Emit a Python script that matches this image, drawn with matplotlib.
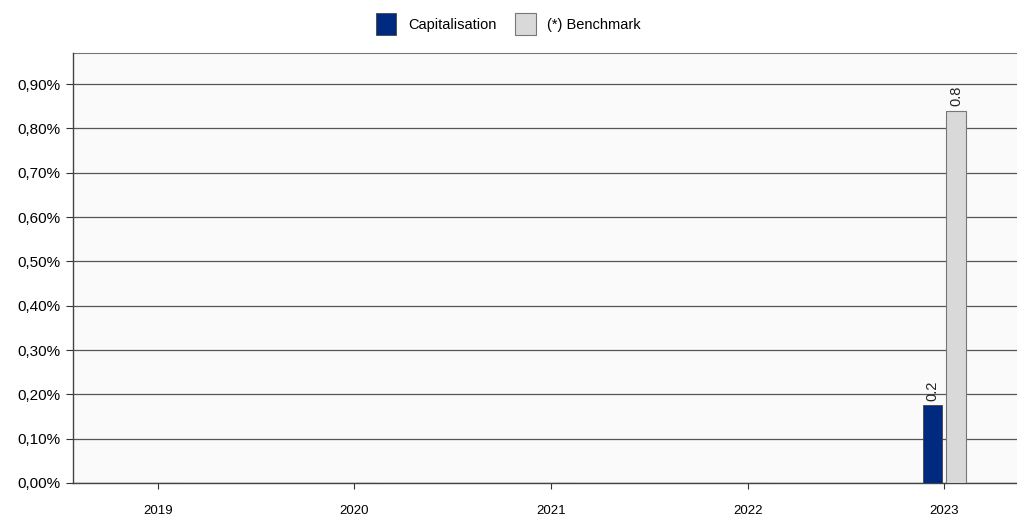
import numpy as np
import matplotlib
matplotlib.use("Agg")
import matplotlib.pyplot as plt
from matplotlib.ticker import FuncFormatter

plt.rcParams['font.family'] = ['Liberation Sans', 'DejaVu Sans']

# data
years = ['2019', '2020', '2021', '2022', '2023']
capitalisation = [0.0, 0.0, 0.0, 0.0, 0.176]
benchmark = [0.0, 0.0, 0.0, 0.0, 0.84]
cap_labels = ['', '', '', '', '0.2']
bench_labels = ['', '', '', '', '0.8']

fig = plt.figure(figsize=(10.17, 5.16), dpi=100)
ax = fig.add_axes([0.072, 0.064, 0.928, 0.833])
ax.set_facecolor('#fafafa')

x = np.arange(len(years))
w = 0.1
b1 = ax.bar(x - 0.06, capitalisation, w, color='#002a80', edgecolor='#444444', linewidth=0.6,
            label='Capitalisation', zorder=3)
b2 = ax.bar(x + 0.06, benchmark, w, color='#d9d9d9', edgecolor='#777777', linewidth=0.8,
            label='(*) Benchmark', zorder=3)

# valeurs au-dessus des barres
for bars, labs in ((b1, cap_labels), (b2, bench_labels)):
    for bar, lab in zip(bars, labs):
        if lab:
            ax.text(bar.get_x() + bar.get_width() / 2, bar.get_height() + 0.01, lab,
                    rotation=90, ha='center', va='bottom', fontsize=10.5, color='#222222')

ax.set_xlim(-0.43, 4.37)
ax.set_ylim(0, 0.97)
ax.set_yticks(np.arange(0, 0.91, 0.1))
ax.yaxis.set_major_formatter(FuncFormatter(lambda v, p: f'{v:.2f}%'.replace('.', ',')))
ax.set_xticks(x)
ax.set_xticklabels(years)
ax.yaxis.grid(True, color='#555555', linewidth=0.9, zorder=1)
ax.tick_params(axis='y', labelsize=11, length=5, color='#333333', pad=4)
ax.tick_params(axis='x', labelsize=9.5, length=4, color='#333333', pad=12)

for s in ('top', 'right'):
    ax.spines[s].set_visible(False)
ax.spines['left'].set_color('#444444')
ax.spines['bottom'].set_color('#444444')
ax.spines['left'].set_linewidth(1.0)
ax.spines['bottom'].set_linewidth(1.0)
ax.axhline(0.97, color='#777777', linewidth=0.8, clip_on=False)

fig.legend(handles=[b1, b2], loc='upper center', bbox_to_anchor=(0.5, 1.0), ncol=2, frameon=False,
           fontsize=10.5, handlelength=1.4, handleheight=1.9, handletextpad=0.8, columnspacing=1.3)

plt.savefig('out.png', dpi=100)
